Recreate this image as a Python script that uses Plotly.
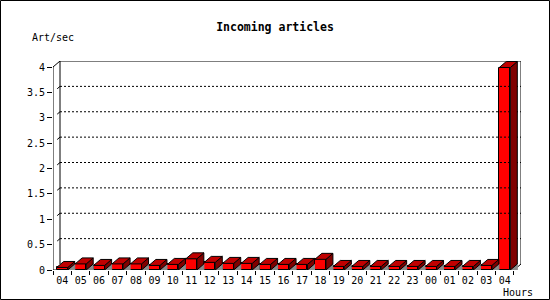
import plotly.graph_objects as go

# ---- data ----
hours = ["04", "05", "06", "07", "08", "09", "10", "11", "12", "13", "14", "15",
         "16", "17", "18", "19", "20", "21", "22", "23", "00", "01", "02", "03", "04"]
art_per_sec = [0.05, 0.12, 0.09, 0.12, 0.12, 0.09, 0.11, 0.22, 0.15, 0.13, 0.13, 0.11,
               0.11, 0.11, 0.21, 0.07, 0.07, 0.07, 0.07, 0.07, 0.07, 0.07, 0.07, 0.09, 3.99]
y_ticks = [0, 0.5, 1, 1.5, 2, 2.5, 3, 3.5, 4]
y_tick_text = ["0", "0.5", "1", "1.5", "2", "2.5", "3", "3.5", "4"]

# ---- geometry (data units) ----
W_PX, H_PX = 550, 300
ML, MR, MT, MB = 53, 29, 61, 30
n = len(hours)
DX = 0.38        # depth offset in x (category units)
DY = 0.118       # depth offset in y (value units)
BW = 0.6         # bar width
YMAX = 4
xpos = list(range(n))

FONT = "DejaVu Sans Mono"

fig = go.Figure()

def poly_trace(polys, fill, line_color="black"):
    xs, ys = [], []
    for p in polys:
        for (a, b) in p:
            xs.append(a)
            ys.append(b)
        xs.append(p[0][0]); ys.append(p[0][1])
        xs.append(None); ys.append(None)
    return go.Scatter(x=xs, y=ys, mode="lines", fill="toself", fillcolor=fill,
                      line=dict(color=line_color, width=1), hoverinfo="skip",
                      showlegend=False, cliponaxis=False)

def line_trace(xs, ys, dash="solid", color="black"):
    return go.Scatter(x=xs, y=ys, mode="lines", line=dict(color=color, width=1, dash=dash),
                      hoverinfo="skip", showlegend=False, cliponaxis=False)

# back plane gridlines (dotted)
for v in y_ticks[1:-1]:
    fig.add_trace(line_trace([-0.5 + DX, n - 0.5 + DX], [v + DY, v + DY], dash="2px,2px"))
    # small 3D tick connectors
    fig.add_trace(line_trace([-0.5 + DX * 0.6, -0.5 + DX], [v + DY * 0.6, v + DY]))

# back plane frame
fig.add_trace(line_trace([-0.5 + DX, -0.5 + DX, n - 0.5 + DX, n - 0.5 + DX],
                         [DY, YMAX + DY, YMAX + DY, DY]))
# front axes
fig.add_trace(line_trace([-0.5 + DX, -0.5, -0.5, n - 0.5, n - 0.5 + DX],
                         [YMAX + DY, YMAX, 0, 0, DY]))

# gray floor triangles
gray = [[(x + BW / 2, 0), (x + BW / 2 + DX, DY), (x + BW / 2 + DX, 0)] for x in xpos]
fig.add_trace(poly_trace(gray, "#8c8c8c", line_color="#8c8c8c"))

# side faces
sides = [[(x + BW / 2, 0), (x + BW / 2, v), (x + BW / 2 + DX, v + DY), (x + BW / 2 + DX, DY)]
         for x, v in zip(xpos, art_per_sec)]
fig.add_trace(poly_trace(sides, "#800000"))

# top faces
tops = [[(x - BW / 2, v), (x - BW / 2 + DX, v + DY), (x + BW / 2 + DX, v + DY), (x + BW / 2, v)]
        for x, v in zip(xpos, art_per_sec)]
fig.add_trace(poly_trace(tops, "#c00000"))

# front faces
fig.add_trace(go.Bar(x=xpos, y=art_per_sec, width=BW, marker=dict(color="#ff0000",
                     line=dict(color="black", width=1)), showlegend=False, hoverinfo="skip"))

plot_w = W_PX - ML - MR
plot_h = H_PX - MT - MB

fig.update_layout(
    width=W_PX, height=H_PX,
    margin=dict(l=ML, r=MR, t=MT, b=MB, pad=0),
    paper_bgcolor="white", plot_bgcolor="white",
    font=dict(family=FONT, size=10, color="black"),
    title=dict(text="<b>Incoming articles</b>", x=0.5, xref="container", xanchor="center",
               y=1 - 27 / H_PX, yref="container", yanchor="middle",
               font=dict(family=FONT, size=11.5, color="black")),
    xaxis=dict(range=[-0.5, n - 0.5 + DX], showgrid=False, zeroline=False, showline=False,
               tickmode="array", tickvals=xpos, ticktext=hours, ticks="",
               ticklabelstandoff=3,
               minor=dict(tickmode="array", tickvals=[i - 0.5 for i in range(n + 1)],
                          ticks="outside", ticklen=4, tickcolor="black", tickwidth=1,
                          showgrid=False),
               tickfont=dict(family=FONT, size=10, color="black"), fixedrange=True),
    yaxis=dict(range=[0, (H_PX - MB - MT) / 50.75], showgrid=False, zeroline=False,
               showline=False, tickmode="array", tickvals=y_ticks, ticktext=y_tick_text,
               ticks="outside", ticklen=5, tickcolor="black", tickwidth=1,
               tickfont=dict(family=FONT, size=10, color="black"), fixedrange=True),
    bargap=0,
    annotations=[
        dict(text="Art/sec", xref="paper", yref="paper", x=(30 - ML) / plot_w,
             y=(H_PX - MB - 37) / plot_h, xanchor="left", yanchor="middle",
             showarrow=False, font=dict(family=FONT, size=10, color="black")),
        dict(text="Hours", xref="paper", yref="paper", x=(535 - ML) / plot_w,
             y=(H_PX - MB - 292) / plot_h, xanchor="right", yanchor="middle",
             showarrow=False, font=dict(family=FONT, size=10, color="black")),
    ],
    shapes=[dict(type="rect", xref="paper", yref="paper",
                 x0=(0.5 - ML) / plot_w, x1=(549.5 - ML) / plot_w,
                 y0=(H_PX - MB - 299.5) / plot_h, y1=(H_PX - MB - 0.5) / plot_h,
                 line=dict(color="black", width=1), fillcolor="rgba(0,0,0,0)", layer="above")],
)

fig.write_html("out.html")
